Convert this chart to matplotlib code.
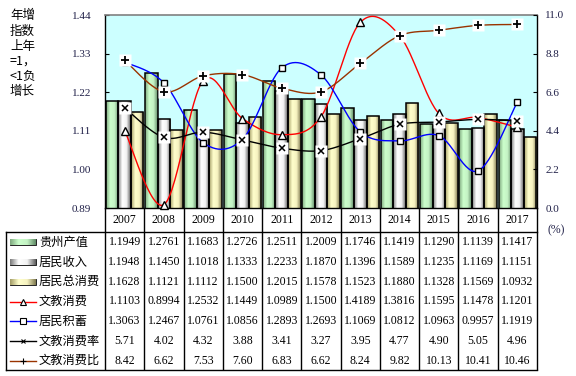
import numpy as np
import matplotlib
matplotlib.use('Agg')
import matplotlib.pyplot as plt
from matplotlib.colors import LinearSegmentedColormap
from matplotlib.patches import Rectangle

# ---------------- data ----------------
years = ['2007', '2008', '2009', '2010', '2011', '2012', '2013', '2014', '2015', '2016', '2017']
gdp = [1.1949, 1.2761, 1.1683, 1.2726, 1.2511, 1.2009, 1.1746, 1.1419, 1.1290, 1.1139, 1.1417]
income = [1.1948, 1.1450, 1.1018, 1.1333, 1.2233, 1.1870, 1.1396, 1.1589, 1.1235, 1.1169, 1.1151]
consumption = [1.1628, 1.1121, 1.1112, 1.1500, 1.2015, 1.1578, 1.1523, 1.1880, 1.1328, 1.1569, 1.0932]
edu_cons = [1.1103, 0.8994, 1.2532, 1.1449, 1.0989, 1.1500, 1.4189, 1.3816, 1.1595, 1.1478, 1.1201]
savings = [1.3063, 1.2467, 1.0761, 1.0856, 1.2893, 1.2693, 1.1069, 1.0812, 1.0963, 0.9957, 1.1919]
edu_rate = [5.71, 4.02, 4.32, 3.88, 3.41, 3.27, 3.95, 4.77, 4.90, 5.05, 4.96]
edu_ratio = [8.42, 6.62, 7.53, 7.60, 6.83, 6.62, 8.24, 9.82, 10.13, 10.41, 10.46]

series_names = ['贵州产值', '居民收入', '居民总消费', '文教消费', '居民积蓄', '文教消费率', '文教消费比']
left_ticks = [0.89, 1.00, 1.11, 1.22, 1.33, 1.44]
right_ticks = [0.0, 2.2, 4.4, 6.6, 8.8, 11.0]
side_note = ['年增', '指数', '上年', '=1，', '<1负', '增长']

# ---------------- style ----------------
W, H = 576, 376
SERIF = 'Liberation Serif'
CJK = ['Noto Sans CJK SC', 'DejaVu Sans']
TICKC = '#202048'

cm_green = LinearSegmentedColormap.from_list('g', ['#7fa87f', '#ccffcc', '#c4f2c4', '#5f8a66'])
cm_grey = LinearSegmentedColormap.from_list('s', ['#7a7a7a', '#ffffff', '#f2f2f2', '#5e5e5e'])
cm_yel = LinearSegmentedColormap.from_list('y', ['#a39c66', '#ffffcc', '#f6f2c0', '#7f7a50'])
bar_cmaps = [cm_green, cm_grey, cm_yel]
grad = np.linspace(0, 1, 64).reshape(1, -1)


def smooth(y, n=30):
    y = np.asarray(y, float)
    P = np.column_stack([np.arange(len(y), dtype=float), y])
    ext = np.vstack([P[0], P, P[-1]])
    t = np.linspace(0, 1, n)[:, None]
    out = []
    for i in range(len(P) - 1):
        p0, p3 = P[i], P[i + 1]
        c1 = p0 + (ext[i + 2] - ext[i]) / 6.0
        c2 = p3 - (ext[i + 3] - ext[i + 1]) / 6.0
        seg = (1 - t) ** 3 * p0 + 3 * (1 - t) ** 2 * t * c1 + 3 * (1 - t) * t ** 2 * c2 + t ** 3 * p3
        out.append(seg if i == 0 else seg[1:])
    out = np.vstack(out)
    return out[:, 0], out[:, 1]


fig = plt.figure(figsize=(W / 100, H / 100), dpi=100)
fig.patch.set_facecolor('white')

# plot area in pixels
PX0, PX1, PY0, PY1 = 105, 537, 15, 208
ax = fig.add_axes([PX0 / W, 1 - PY1 / H, (PX1 - PX0) / W, (PY1 - PY0) / H])
ax.set_facecolor('#CCFFFF')
n = len(years)
x = np.arange(n)
ax.set_xlim(-0.5, n - 0.5)
ax.set_ylim(left_ticks[0], left_ticks[-1])

bw = 0.32
for k, vals in enumerate([gdp, income, consumption]):
    pos = x + (k - 1) * bw
    bars = ax.bar(pos, vals, width=bw, facecolor='none', edgecolor='black', linewidth=1.1, zorder=3)
    for b in bars:
        bx, bwid, bh = b.get_x(), b.get_width(), b.get_height()
        im = ax.imshow(grad, extent=[bx, bx + bwid, left_ticks[0], bh], aspect='auto',
                       cmap=bar_cmaps[k], zorder=2, interpolation='bilinear')
        im.set_clip_path(b)
ax.set_xlim(-0.5, n - 0.5)
ax.set_ylim(left_ticks[0], left_ticks[-1])

# left-axis lines
sx, sy = smooth(edu_cons)
ax.plot(sx, sy, color='#FF0000', lw=1.0, zorder=5)
ax.plot(x, edu_cons, '^', ms=5.5, mfc='white', mec='black', mew=1.0, zorder=6, clip_on=False)
sx, sy = smooth(savings)
ax.plot(sx, sy, color='#0000FF', lw=1.0, zorder=5)
ax.plot(x, savings, 's', ms=5, mfc='white', mec='black', mew=1.0, zorder=6)

ax.set_yticks(left_ticks)
ax.set_yticklabels(['%.2f' % v for v in left_ticks], fontfamily=SERIF, fontsize=8, color=TICKC)
ax.tick_params(axis='y', direction='in', length=3, width=0.8, pad=10)
ax.set_xticks([])
for s in ['left', 'bottom', 'right']:
    ax.spines[s].set_color('black')
    ax.spines[s].set_linewidth(1.0)
ax.spines['top'].set_color('#808080')
ax.spines['top'].set_linewidth(1.2)

# right axis
ax2 = ax.twinx()
ax2.set_ylim(right_ticks[0], right_ticks[-1])
sx, sy = smooth(edu_rate)
ax2.plot(sx, sy, color='black', lw=1.0, zorder=5)
ax2.plot(x, edu_rate, 's', ms=8, mfc='white', mec='none', zorder=6)
ax2.plot(x, edu_rate, 'x', ms=5, mec='black', mew=1.1, zorder=7)
sx, sy = smooth(edu_ratio)
ax2.plot(sx, sy, color='#993300', lw=1.0, zorder=5)
ax2.plot(x, edu_ratio, 's', ms=8, mfc='white', mec='none', zorder=6)
ax2.plot(x, edu_ratio, '+', ms=6, mec='black', mew=1.3, zorder=7)
ax2.set_yticks(right_ticks)
ax2.set_yticklabels(['%.1f' % v for v in right_ticks], fontfamily=SERIF, fontsize=8, color=TICKC)
ax2.tick_params(axis='y', direction='in', length=3, width=0.8, pad=6)
ax2.set_xticks([])
for s in ax2.spines.values():
    s.set_visible(False)

# ---------------- table (pixel coordinates) ----------------
tab = fig.add_axes([0, 0, 1, 1], zorder=-1)
tab.set_xlim(0, W)
tab.set_ylim(H, 0)
tab.axis('off')
tab.patch.set_visible(False)

TL, TR, TT, TB, HB = 6, PX1, 231.5, 369.5, PY1
colw = (PX1 - PX0) / n
for i in range(n + 1):
    xb = PX0 + i * colw
    tab.plot([xb, xb], [HB, TB], color='black', lw=1.0, solid_capstyle='butt')
tab.plot([TL, TR], [TT, TT], color='black', lw=1.0)
tab.plot([TL, TR], [TB, TB], color='black', lw=1.0)
tab.plot([TL, TL], [TT, TB], color='black', lw=1.0)

for i, yr in enumerate(years):
    tab.text(PX0 + (i + 0.5) * colw, 220, yr, ha='center', va='center', fontfamily=SERIF, fontsize=8.5)

rows = [gdp, income, consumption, edu_cons, savings, edu_rate, edu_ratio]
fmts = ['%.4f'] * 5 + ['%.2f'] * 2
rh = (TB - TT) / 7
for r, (vals, fmt) in enumerate(zip(rows, fmts)):
    yc = TT + (r + 0.5) * rh + 1
    for i, v in enumerate(vals):
        tab.text(PX0 + (i + 0.5) * colw, yc, fmt % v, ha='center', va='center',
                 fontfamily=SERIF, fontsize=8.5)
    tab.text(39, yc, series_names[r], ha='left', va='center', fontfamily=CJK, fontsize=8.8)

# legend keys
kx0, kx1 = 10, 36
for k in range(3):
    yc = TT + (k + 0.5) * rh + 1
    rect = Rectangle((kx0, yc - 3.0), kx1 - kx0, 6.0, facecolor='none', edgecolor='black', lw=0.6)
    tab.add_patch(rect)
    im = tab.imshow(grad, extent=[kx0, kx1, yc + 3.0, yc - 3.0], aspect='auto', cmap=bar_cmaps[k],
                    interpolation='bilinear', zorder=1)
    im.set_clip_path(rect)
key_specs = [('#FF0000', '^', 4.5, 'white'), ('#0000FF', 's', 4, 'white'),
             ('black', 'x', 3.5, 'black'), ('#993300', '+', 4.5, 'black')]
for j, (c, m, ms, fc) in enumerate(key_specs):
    yc = TT + (j + 3.5) * rh + 1
    tab.plot([kx0, kx1], [yc, yc], color=c, lw=1.0)
    tab.plot([(kx0 + kx1) / 2], [yc], m, ms=ms, mfc=fc, mec='black', mew=0.8)
tab.set_xlim(0, W)
tab.set_ylim(H, 0)

# side note and unit
for i, s in enumerate(side_note):
    tab.text(10, 16 + i * 15.2, s, ha='left', va='center', fontfamily=CJK, fontsize=9)
tab.text(548, 230, '(%)', ha='left', va='center', fontfamily=SERIF, fontsize=8.5, color=TICKC)

fig.savefig('out.png', dpi=100)
